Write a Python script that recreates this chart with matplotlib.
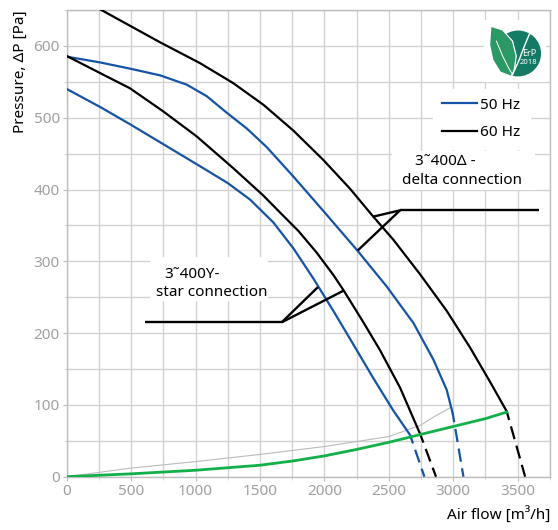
"""
Fan characteristic: pressure vs air flow, star/delta connection at 50/60 Hz.
Output: out.png (558x530 px)
"""

import matplotlib
matplotlib.use("Agg")
import matplotlib.pyplot as plt
from matplotlib.patches import Circle, Polygon, Rectangle

plt.rcParams["font.family"] = ["Noto Sans", "DejaVu Sans"]

# --- curve data (air flow m3/h, pressure Pa) -------------------------------
delta_60_q = [259, 725, 1035, 1294, 1527, 1760, 1993, 2200, 2381, 2536, 2743, 2950, 3131, 3287, 3416]
delta_60_p = [651, 605, 576, 548, 518, 482, 441, 401, 362, 330, 282, 231, 180, 132, 91]

delta_50_q = [0, 259, 500, 725, 932, 1087, 1242, 1398, 1553, 1760, 1993, 2252, 2484, 2692, 2847, 2950, 2997]
delta_50_p = [585, 577, 568, 559, 546, 530, 507, 485, 459, 418, 370, 316, 265, 214, 163, 121, 88]

star_60_q = [0, 250, 491, 748, 1009, 1291, 1524, 1656, 1800, 1941, 2070, 2148, 2300, 2433, 2588, 2745]
star_60_p = [586, 563, 541, 509, 474, 430, 392, 368, 342, 312, 281, 260, 216, 176, 124, 59]

star_50_q = [0, 259, 500, 751, 1002, 1250, 1423, 1605, 1760, 1915, 2070, 2226, 2381, 2536, 2666]
star_50_p = [540, 515, 490, 463, 436, 409, 386, 354, 318, 276, 231, 184, 137, 92, 58]

# dashed run-out beyond the working range (end of curve -> zero pressure)
runout_50 = [([2666, 2777], [58, 0]), ([2997, 3080], [88, 0])]
runout_60 = [([2745, 2867], [59, 0]), ([3416, 3559], [91, 0])]

system_q = [0, 500, 1002, 1501, 1760, 2001, 2252, 2503, 2751, 3002, 3253, 3416]
system_p = [0, 4, 9, 16, 22, 29, 38, 48, 59, 70, 81, 90]

thin_q = [0, 500, 1000, 1500, 2000, 2503, 2751, 2847, 2976]
thin_p = [0, 12, 21, 31, 42, 56, 72, 83, 96]

# leader lines for the connection labels
star_leader = [([608, 1669], [215, 215]), ([1669, 1950], [215, 264]), ([1669, 2148], [215, 259])]
delta_leader = [([2588, 3663], [371, 371]), ([2588, 2375], [371, 362]), ([2588, 2259], [371, 315])]

BLUE = "#1553a5"
BLACK = "#000000"
GREEN = "#12b04a"
GRID = "#d2d2d2"
TICK = "#a0a0a0"

W, H = 558, 530
fig = plt.figure(figsize=(W / 100, H / 100), dpi=100)
ax = fig.add_axes([66.7 / W, 1 - 476.7 / H, (550 - 66.7) / W, (476.7 - 10) / H])

ax.set_xlim(0, 3752)
ax.set_ylim(0, 650)
ax.set_xticks(range(0, 3501, 500))
ax.set_xticks(range(0, 3751, 250), minor=True)
ax.set_yticks(range(0, 601, 100))
ax.set_yticks(range(0, 651, 50), minor=True)
ax.grid(True, which="both", color=GRID, lw=1.0, zorder=0)
ax.set_axisbelow(True)
for s in ax.spines.values():
    s.set_color("#bdbdbd")
    s.set_linewidth(1.0)
ax.tick_params(which="major", length=3, color="#bbbbbb", labelcolor=TICK, labelsize=11, pad=2)
ax.tick_params(which="minor", length=2, color="#cccccc")

lw = 1.6
ax.plot(delta_60_q, delta_60_p, color=BLACK, lw=lw, zorder=4)
ax.plot(delta_50_q, delta_50_p, color=BLUE, lw=lw, zorder=4)
ax.plot(star_60_q, star_60_p, color=BLACK, lw=lw, zorder=4)
ax.plot(star_50_q, star_50_p, color=BLUE, lw=lw, zorder=4)
for q, p in runout_50:
    ax.plot(q, p, color=BLUE, lw=lw, ls=(2, (6, 3)), zorder=4)
for q, p in runout_60:
    ax.plot(q, p, color=BLACK, lw=lw, ls=(2, (6, 3)), zorder=4)

ax.plot(thin_q, thin_p, color="#bbbbbb", lw=0.8, zorder=3)
ax.plot(system_q, system_p, color=GREEN, lw=2.0, zorder=5)

for q, p in star_leader + delta_leader:
    ax.plot(q, p, color=BLACK, lw=1.7, zorder=4, solid_capstyle="butt")

# white label panels that hide the grid
for x0, y0, w, h in [(650, 245, 910, 61), (2523, 399, 1113, 54)]:
    ax.add_patch(Rectangle((x0, y0), w, h, fc="white", ec="none", zorder=1))
ax.text(970, 282, "3˜400Y-", ha="center", va="center", fontsize=11, zorder=3)
ax.text(1126, 257, "star connection", ha="center", va="center", fontsize=11, zorder=3)
ax.text(2937, 439, "3˜400Δ -", ha="center", va="center", fontsize=11, zorder=3)
ax.text(3067, 413, "delta connection", ha="center", va="center", fontsize=11, zorder=3)

# legend
h50, = ax.plot([], [], color=BLUE, lw=lw, label="50 Hz")
h60, = ax.plot([], [], color=BLACK, lw=lw, label="60 Hz")
leg = ax.legend(handles=[h50, h60], loc="upper right", bbox_to_anchor=(0.974, 0.848),
                fontsize=11, frameon=True, fancybox=False, framealpha=1,
                edgecolor="white", facecolor="white", handlelength=2.3,
                handletextpad=0.2, labelspacing=0.8, borderpad=0.6)
leg.set_zorder(6)

ax.set_ylabel("Pressure, ΔP [Pa]", loc="top", fontsize=11, labelpad=4)
ax.set_xlabel("Air flow [m³/h]", loc="right", fontsize=11, labelpad=6)

# ErP 2018 badge
lx = fig.add_axes([484 / W, 1 - 82 / H, 62 / W, 62 / H])
lx.set_xlim(0, 1)
lx.set_ylim(0, 1)
lx.set_aspect("equal")
lx.axis("off")
lx.add_patch(Rectangle((0, 0), 1, 1, fc="white", ec="none"))
lx.add_patch(Circle((0.55, 0.46), 0.37, fc="#137a64", ec="none"))
leaf = [(0.44, 0.09), (0.26, 0.16), (0.14, 0.36), (0.09, 0.60), (0.11, 0.90),
        (0.30, 0.84), (0.46, 0.66), (0.52, 0.42), (0.49, 0.20)]
lx.add_patch(Polygon(leaf, closed=True, fc="#2a9966", ec="white", lw=0.9))
lx.plot([0.20, 0.30, 0.40, 0.46], [0.66, 0.42, 0.22, 0.12], color="white", lw=0.7)
lx.plot([0.46, 0.56, 0.66, 0.76], [0.12, 0.34, 0.60, 0.84], color="white", lw=1.0)
lx.text(0.73, 0.46, "ErP", color="white", fontsize=6.5, ha="center", va="center")
lx.text(0.72, 0.31, "2018", color="white", fontsize=5.5, ha="center", va="center")

fig.savefig("out.png", dpi=100)
